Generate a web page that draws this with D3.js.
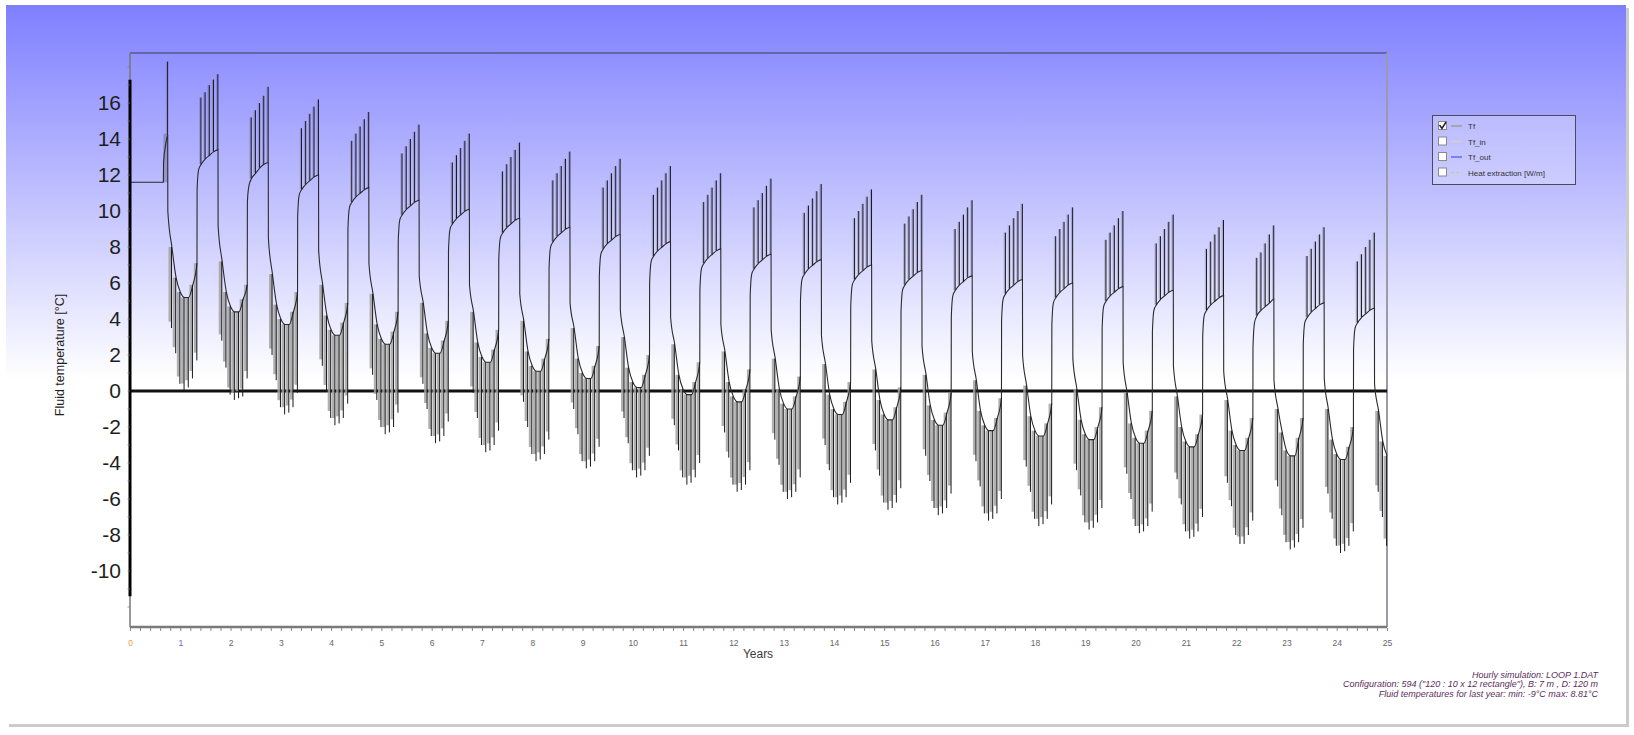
<!DOCTYPE html>
<html><head><meta charset="utf-8">
<script src="https://cdn.jsdelivr.net/npm/d3@7"></script>
<style>body{margin:0;background:#fff}svg{display:block;font-family:"Liberation Sans",Arial,sans-serif}</style>
</head><body><svg id="c" width="1634" height="735"></svg>
<script>
// ---------------- data ----------------
const xTickLabels = ["0","1","2","3","4","5","6","7","8","9","10","11","12","13","14","15","16","17","18","19","20","21","22","23","24","25"];
const yTickValues = [-10,-8,-6,-4,-2,0,2,4,6,8,10,12,14,16];
const cycles = [0,1,2,3,4,5,6,7,8,9,10,11,12,13,14,15,16,17,18,19,20,21,22,23,24];
// start of operation, year 0: [time (years), Tf]
const startupBase = [[0,11.6],[0.664,11.6],[0.667,12.7],[0.71,13.7],[0.75,14.2]];
const startupBand = [0.664, 0.745, 11.6, 14.3];
const startSpan = [-11.4, 17.3];
// summer base: [after jump, knee, May, Jun, Jul, Aug, Sep]
const summerBase = [null,
 [11.2,12.3,12.6,12.9,13.1,13.3,13.4],[10.5,11.4,11.8,12.1,12.4,12.6,12.7],[9.7,10.9,11.2,11.5,11.7,11.9,12.0],
 [9.0,10.2,10.5,10.8,11.0,11.2,11.3],[8.3,9.5,9.8,10.1,10.3,10.5,10.6],[7.8,9.0,9.3,9.6,9.8,10.0,10.1],
 [7.3,8.5,8.8,9.1,9.3,9.5,9.6],[6.8,8.0,8.3,8.6,8.8,9.0,9.1],[6.4,7.6,7.9,8.2,8.4,8.6,8.7],
 [6.0,7.2,7.5,7.8,8.0,8.2,8.3],[5.6,6.8,7.1,7.4,7.6,7.8,7.9],[5.3,6.5,6.8,7.1,7.3,7.5,7.6],
 [5.0,6.2,6.5,6.8,7.0,7.2,7.3],[4.7,5.9,6.2,6.5,6.7,6.9,7.0],[4.4,5.6,5.9,6.2,6.4,6.6,6.7],
 [4.1,5.3,5.6,5.9,6.1,6.3,6.4],[3.9,5.1,5.4,5.7,5.9,6.1,6.2],[3.7,4.9,5.2,5.5,5.7,5.9,6.0],
 [3.5,4.7,5.0,5.3,5.5,5.7,5.8],[3.3,4.5,4.8,5.1,5.3,5.5,5.6],[3.0,4.2,4.5,4.8,5.0,5.2,5.3],
 [2.4,3.8,4.2,4.5,4.7,4.9,5.1],[2.6,3.8,4.1,4.4,4.6,4.8,4.9],[2.3,3.5,3.8,4.1,4.3,4.5,4.6]];
// summer monthly peaks: [May, Jun, Jul, Aug, Sep]
const summerPeaks = [[null,null,null,null,18.3],
 [16.3,16.6,17.0,17.3,17.6],[15.2,15.6,16.0,16.4,16.9],[14.6,15.0,15.4,15.8,16.2],
 [13.9,14.3,14.7,15.1,15.5],[13.2,13.6,14.0,14.4,14.8],[12.7,13.1,13.5,13.9,14.3],
 [12.2,12.6,13.0,13.4,13.8],[11.7,12.1,12.5,12.9,13.3],[11.3,11.7,12.1,12.5,12.9],
 [10.9,11.3,11.7,12.1,12.5],[10.5,10.9,11.3,11.7,12.1],[10.2,10.6,11.0,11.4,11.8],
 [9.9,10.3,10.7,11.1,11.5],[9.6,10.0,10.4,10.8,11.2],[9.3,9.7,10.1,10.5,10.9],
 [9.0,9.4,9.8,10.2,10.6],[8.8,9.2,9.6,10.0,10.4],[8.6,9.0,9.4,9.8,10.2],
 [8.4,8.8,9.2,9.6,10.0],[8.2,8.6,9.0,9.4,9.8],[7.9,8.3,8.7,9.1,9.5],
 [7.4,7.7,8.2,8.7,9.2],[7.5,7.9,8.3,8.7,9.1],[7.2,7.6,8.0,8.4,8.8]];
// winter base: [after drop, Oct, Nov, Dec, Jan, Feb, Mar, Apr]
const winterBase = [
 [10.0,8.0,6.3,5.5,5.2,5.2,5.9,7.1],[9.2,7.2,5.5,4.7,4.4,4.4,5.1,5.9],[8.5,6.5,4.8,4.0,3.7,3.7,4.4,5.5],
 [7.8,5.9,4.2,3.4,3.1,3.1,3.8,4.9],[7.1,5.4,3.7,2.9,2.6,2.6,3.3,4.4],[6.4,4.9,3.2,2.4,2.1,2.1,2.8,3.9],
 [5.9,4.4,2.7,1.9,1.6,1.6,2.3,3.4],[5.4,3.9,2.2,1.4,1.1,1.1,1.8,2.9],[4.9,3.5,1.8,1.0,0.7,0.7,1.4,2.5],
 [4.5,3.0,1.3,0.5,0.2,0.2,0.9,2.0],[4.1,2.6,0.9,0.1,-0.2,-0.2,0.5,1.6],[3.7,2.2,0.5,-0.3,-0.6,-0.6,0.1,1.2],
 [3.4,1.8,0.1,-0.7,-1.0,-1.0,-0.3,0.8],[3.1,1.5,-0.2,-1.0,-1.3,-1.3,-0.6,0.5],[2.8,1.2,-0.5,-1.3,-1.6,-1.6,-0.9,0.2],
 [2.5,0.9,-0.8,-1.6,-1.9,-1.9,-1.2,-0.1],[2.2,0.6,-1.1,-1.9,-2.2,-2.2,-1.5,-0.4],[2.0,0.3,-1.4,-2.2,-2.5,-2.5,-1.8,-0.7],
 [1.8,0.1,-1.6,-2.4,-2.7,-2.7,-2.0,-0.9],[1.6,-0.1,-1.8,-2.6,-2.9,-2.9,-2.2,-1.1],[1.4,-0.3,-2.0,-2.8,-3.1,-3.1,-2.4,-1.3],
 [1.1,-0.5,-2.2,-3.0,-3.3,-3.3,-2.6,-1.5],[0.6,-1.0,-2.3,-3.3,-3.6,-3.6,-2.6,-1.5],[0.7,-1.0,-2.7,-3.5,-3.8,-3.8,-3.1,-2.0],
 [0.4,-1.1,-2.8,-3.6]];
// winter monthly peaks (lowest): [Oct, Nov, Dec, Jan, Feb, Mar, Apr]
const winterPeaks = [
 [3.5,2.1,0.4,0.0,0.2,0.7,1.7],[2.8,1.3,-0.2,-0.5,-0.4,-0.3,0.7],[2.0,0.6,-0.9,-1.3,-1.2,-0.9,-0.1],
 [1.4,0.0,-1.5,-1.9,-1.8,-1.5,-0.7],[0.9,-0.5,-2.0,-2.4,-2.3,-2.0,-1.2],[0.4,-1.0,-2.5,-2.9,-2.8,-2.5,-1.7],
 [-0.1,-1.5,-3.0,-3.4,-3.3,-3.0,-2.2],[-0.6,-2.0,-3.5,-3.9,-3.8,-3.5,-2.7],[-1.0,-2.4,-3.9,-4.3,-4.2,-3.9,-3.1],
 [-1.5,-2.9,-4.4,-4.8,-4.7,-4.4,-3.6],[-1.9,-3.3,-4.8,-5.2,-5.1,-4.8,-4.0],[-2.3,-3.7,-5.2,-5.6,-5.5,-5.2,-4.4],
 [-2.7,-4.1,-5.6,-6.0,-5.9,-5.6,-4.8],[-3.0,-4.4,-5.9,-6.3,-6.2,-5.9,-5.1],[-3.3,-4.7,-6.2,-6.6,-6.5,-6.2,-5.4],
 [-3.6,-5.0,-6.5,-6.9,-6.8,-6.5,-5.7],[-3.9,-5.3,-6.8,-7.2,-7.1,-6.8,-6.0],[-4.2,-5.6,-7.1,-7.5,-7.4,-7.1,-6.3],
 [-4.4,-5.8,-7.3,-7.7,-7.6,-7.3,-6.5],[-4.6,-6.0,-7.5,-7.9,-7.8,-7.5,-6.7],[-4.9,-6.3,-7.8,-8.2,-8.1,-7.8,-7.0],
 [-5.1,-6.4,-8.0,-8.5,-8.5,-8.0,-7.2],[-5.3,-6.9,-8.4,-8.8,-8.7,-8.4,-7.6],[-5.7,-7.1,-8.6,-9.0,-8.9,-8.6,-7.8],
 [-5.6,-7.0,-8.6]];
const legendItems = ["Tf","Tf_in","Tf_out","Heat extraction [W/m]"];
const legendColors = ["#a0a0a0","#cfcfcf","#6b6bff","#a8d8a8"];
const legendChecked = [true,false,false,false];
const notes = ["Hourly simulation: LOOP 1.DAT",
 "Configuration: 594 (\"120 : 10 x 12 rectangle\"), B: 7 m , D: 120 m",
 "Fluid temperatures for last year: min: -9°C max: 8.81°C"];

// ---------------- drawing ----------------
const svg = d3.select("#c");
const defs = svg.append("defs");
const g0 = defs.append("linearGradient").attr("id","bg").attr("gradientUnits","userSpaceOnUse")
  .attr("x1",0).attr("y1",5).attr("x2",0).attr("y2",380);
g0.append("stop").attr("offset",0).attr("stop-color","#7f7fff");
g0.append("stop").attr("offset",1).attr("stop-color","#ffffff");
svg.append("rect").attr("width",1634).attr("height",735).attr("fill","#fff");
svg.append("rect").attr("x",9).attr("y",8).attr("width",1620).attr("height",719).attr("fill","#cbcbcb");
svg.append("rect").attr("x",6).attr("y",5).attr("width",1620).attr("height",719).attr("fill","url(#bg)");

const x = d3.scaleLinear().domain([0,25]).range([130,1387]);
const y = d3.scaleLinear().domain([-13.11,18.78]).range([627,53]);

// frame
svg.append("line").attr("x1",x(0)).attr("x2",x(25)).attr("y1",53).attr("y2",53).attr("stroke","#3a3a55").attr("stroke-width",1.2);
svg.append("line").attr("x1",x(25)).attr("x2",x(25)).attr("y1",53).attr("y2",627).attr("stroke","#9a9aa8").attr("stroke-width",2);
svg.append("line").attr("x1",x(0)).attr("x2",x(0)).attr("y1",53).attr("y2",627).attr("stroke","#777").attr("stroke-width",1.5);

// zero line
svg.append("line").attr("x1",x(0)).attr("x2",x(25)).attr("y1",y(0)).attr("y2",y(0)).attr("stroke","#111").attr("stroke-width",3);

// build base path points
const pts = startupBase.map(d=>[d[0],d[1]]);
const spikes = [];
cycles.forEach(k=>{
  const sb = summerBase[k];
  if (sb) {
    pts.push([k+0.3345, sb[0]], [k+0.365, sb[1]]);
    for (let m=0;m<5;m++) pts.push([k+(5+m)/12, sb[2+m]]);
  }
  const sp = summerPeaks[k];
  for (let m=0;m<5;m++) {
    if (sp[m]==null) continue;
    const t = m===4 ? k+0.748 : k+(5+m)/12-0.006;
    const base = sb ? sb[2+m] : startupBase[startupBase.length-1][1];
    spikes.push({t, base, peak: sp[m], s:"summer"});
  }
  const wb = winterBase[k];
  pts.push([k+0.752, wb[0]]);
  for (let m=1;m<wb.length;m++) {
    const tt = m===7 ? k+1+4/12-0.0012 : k+(9+m)/12;
    pts.push([tt, wb[m]]);
  }
  const wp = winterPeaks[k];
  for (let m=0;m<wp.length;m++) {
    const t = m===6 ? k+1+4/12-0.004 : k+(10+m)/12-0.008;
    spikes.push({t, base: wb[m+1], peak: wp[m], s:"winter"});
  }
});

// startup band
svg.append("rect").attr("x",x(startupBand[0])).attr("width",x(startupBand[1])-x(startupBand[0]))
  .attr("y",y(startupBand[3])).attr("height",y(startupBand[2])-y(startupBand[3]))
  .attr("fill","#6a6a80").attr("opacity",0.45);

// gray bands behind spikes
const bw = d=> d.s==="winter"?0.06:0.035;
svg.append("g").selectAll("rect").data(spikes).join("rect")
  .attr("x",d=>x(d.t - bw(d)))
  .attr("width",d=>x(d.t)-x(d.t-bw(d)))
  .attr("y",d=>y(Math.max(d.base,d.peak)))
  .attr("height",d=>Math.abs(y(d.base)-y(d.peak)) * (d.s==="winter"?0.92:1))
  .attr("fill",d=>d.s==="winter"?"#a2a2a2":"#5a5a70")
  .attr("opacity",d=>d.s==="winter"?0.85:0.3);

// base curve
const line = d3.line().x(d=>x(d[0])).y(d=>y(d[1])).curve(d3.curveMonotoneX);
svg.append("path").datum(pts).attr("d",line).attr("fill","none").attr("stroke","#2a2a2a").attr("stroke-width",1.1);

// spike lines
svg.append("g").selectAll("line").data(spikes).join("line")
  .attr("x1",d=>x(d.t)).attr("x2",d=>x(d.t))
  .attr("y1",d=>y(d.base)).attr("y2",d=>y(d.peak))
  .attr("stroke","#1a1a1a").attr("stroke-width",1.0);

// start span at t=0
svg.append("line").attr("x1",x(0)).attr("x2",x(0)).attr("y1",y(startSpan[0])).attr("y2",y(startSpan[1]))
  .attr("stroke","#000").attr("stroke-width",3);

// y axis labels
const ya = svg.append("g").attr("transform",`translate(${x(0)},0)`)
  .call(d3.axisLeft(y).tickValues(yTickValues).tickSize(0).tickPadding(9).tickFormat(d=>d));
ya.select(".domain").remove();
ya.selectAll("text").attr("font-size",21).attr("fill","#1e1e1e").attr("font-family","Liberation Sans, Arial, sans-serif");
// y minor ticks
svg.append("g").selectAll("line").data(d3.range(-12,19)).join("line")
  .attr("x1",x(0)-2.5).attr("x2",x(0)).attr("y1",d=>y(d)).attr("y2",d=>y(d)).attr("stroke","#777").attr("stroke-width",0.7);

// x axis
svg.append("line").attr("x1",x(0)).attr("x2",x(25)).attr("y1",627).attr("y2",627).attr("stroke","#7a7a7a").attr("stroke-width",2.5);
const xa = svg.append("g").attr("transform","translate(0,628)")
  .call(d3.axisBottom(x).tickValues(d3.range(0,25.01,0.2)).tickSize(3).tickFormat(""));
xa.select(".domain").remove();
xa.selectAll("line").attr("stroke","#888");
const xl = svg.append("g").attr("transform","translate(0,628)")
  .call(d3.axisBottom(x).tickValues(d3.range(0,26)).tickSize(0).tickPadding(12).tickFormat(d=>xTickLabels[d]));
xl.select(".domain").remove();
xl.selectAll("text").attr("font-size",8.5).attr("fill",(d)=>d===0?"#e3a04a":(d===1?"#7463c4":"#666"))
  .attr("font-family","Liberation Sans, Arial, sans-serif");

// axis titles
svg.append("text").attr("x",758).attr("y",658).attr("text-anchor","middle").attr("font-size",12).attr("fill","#3a3a3a").text("Years");
svg.append("text").attr("transform","translate(64,355) rotate(-90)").attr("text-anchor","middle")
  .attr("font-size",12.5).attr("fill","#1e1e1e").text("Fluid temperature [°C]");

// legend
const lg = svg.append("g");
lg.append("rect").attr("x",1432.5).attr("y",115.5).attr("width",143).attr("height",69)
  .attr("fill","#ffffff").attr("fill-opacity",0.25).attr("stroke","#4a4a5a").attr("stroke-width",1);
legendItems.forEach((t,i)=>{
  const yy = 126 + i*15.5;
  lg.append("rect").attr("x",1438.5).attr("y",yy-4.5).attr("width",8).attr("height",8)
    .attr("fill","#fff").attr("stroke","#8a8a8a").attr("stroke-width",1);
  if (legendChecked[i]) lg.append("path").attr("d",`M${1439.5},${yy-1} L${1442},${yy+2.5} L${1446},${yy-4}`)
    .attr("fill","none").attr("stroke","#222").attr("stroke-width",1.5);
  lg.append("line").attr("x1",1451).attr("x2",1462).attr("y1",yy).attr("y2",yy)
    .attr("stroke",legendColors[i]).attr("stroke-width",1.6).attr("stroke-dasharray",i===3?"3,2":null);
  lg.append("text").attr("x",1468).attr("y",yy+3).attr("font-size",8).attr("fill","#333").text(t);
});

// notes
notes.forEach((t,i)=>{
  svg.append("text").attr("x",1598).attr("y",678+i*9.3).attr("text-anchor","end")
    .attr("font-size",9).attr("font-style","italic").attr("fill","#5c2c5c").text(t);
});
</script></body></html>
